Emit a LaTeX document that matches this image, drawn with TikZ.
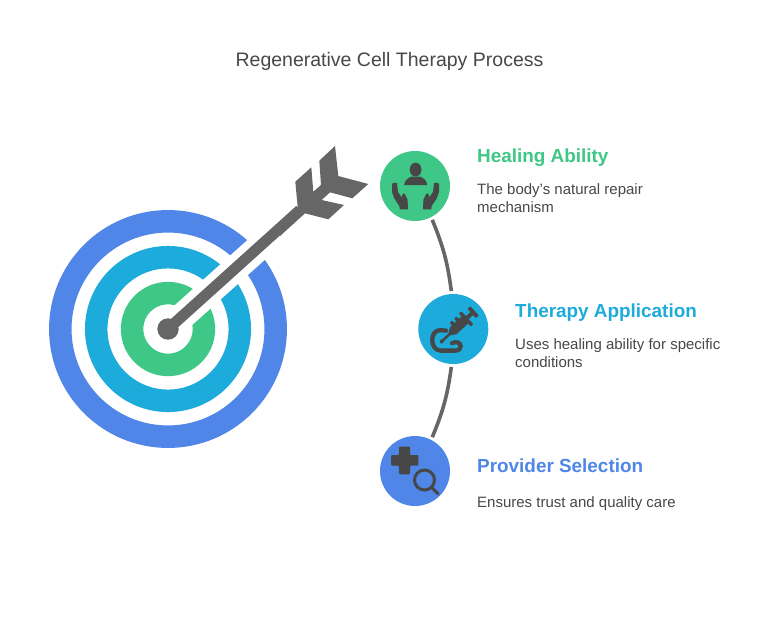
\documentclass[tikz,border=0pt]{standalone}
\usepackage{fontspec}
\setmainfont{Liberation Sans}
\definecolor{cgreen}{HTML}{3EC786}
\definecolor{ccyan}{HTML}{1DABDB}
\definecolor{cblue}{HTML}{4F86E7}
\definecolor{cgrey}{HTML}{666666}
\definecolor{cicon}{HTML}{474747}
\definecolor{ctext}{HTML}{484848}
\tikzset{
 stepdisc/.style={circle,minimum size=70pt,inner sep=0pt,outer sep=3pt,fill=#1},
 conn/.style={draw=cgrey,line width=3.6pt},
 heading/.style={anchor=base west,inner sep=0pt,font=\fontsize{18.9}{22}\selectfont\bfseries,text=#1},
 body/.style={anchor=north west,inner sep=0pt,align=left,font=\fontsize{15}{18}\selectfont,text=ctext},
 title/.style={anchor=base,inner sep=0pt,font=\fontsize{19.5}{22}\selectfont,text=ctext},
 ico/.style={fill=cicon,draw=none},
 icol/.style={draw=cicon,line width=3pt,fill=none,line cap=round},
}
\begin{document}
\begin{tikzpicture}[x=1pt,y=-1pt]
\useasboundingbox (0,0) rectangle (778,616);
\fill[white] (0,0) rectangle (778,616);
\node[title] (ttl) at (389.5,66.5) {Regenerative Cell Therapy Process};
% target
\coordinate (c) at (168,329);
\draw[cblue,line width=22.5pt] (c) circle (107.7);
\draw[ccyan,line width=22.5pt] (c) circle (71.8);
\draw[cgreen,line width=22.5pt] (c) circle (35.9);
\draw[white,line width=26.4pt] (c) -- ++(-41.9:175);
\fill[cgrey] (c) circle (10.7);
\draw[cgrey,line width=11pt] (c) -- (300,210);
\fill[cgrey] (280,221.7)--(297.7,207.3)--(295.3,181.7)--(311.3,167.3)--(313.3,191.7)--(321,185)--(319.3,160.7)--(335,146)--(338.3,176)--(368.3,184)--(352.3,198.3)--(330,192.3)--(321.7,200)--(344,205)--(328.3,219.3)--(305,213.3)--(280,236)--cycle;
% step discs
\node[stepdisc=cgreen] (a) at (415,186) {};
\node[stepdisc=ccyan] (b) at (453.3,329) {};
\node[stepdisc=cblue] (d) at (415,471) {};
\draw[conn] (a.-63) to[bend left=7.5] (b.93.5);
\draw[conn] (b.-93.5) to[bend left=7.5] (d.63);
% icon: person and hands
\fill[ico] (415.6,169.6) ellipse (5.9 and 6.9);
\fill[ico] (404.2,185) .. controls (404.4,180.5) and (408,178) .. (411.5,176.5) -- (420,176.5) .. controls (423.5,178) and (427,180.5) .. (427.2,185) -- cycle;
\foreach \sx/\ox in {1/0,-1/831}{
 \begin{scope}[xshift=\ox pt,xscale=\sx]
 \fill[ico] (392,184)--(393.5,182.8)--(397,183)--(398,192)--(401.8,197.5)--(402.6,193.5)--(404.5,193.5)--(407.6,199.5)--(408,209.3)--(399.8,209.3)--(399.3,206)--(394.3,198.5)--(392,192)--cycle;
 \end{scope}
}
% icon: syringe and tube
\draw[icol,line width=4.3pt] (446,330.6) -- (440,330.2) .. controls (435,330.2) and (432.2,335) .. (432.2,340) .. controls (432.2,346.5) and (436,350.6) .. (441,350.6) -- (455,350.6) .. controls (459,350.6) and (461,348.5) .. (460.7,346) .. controls (460.3,342.5) and (456,341) .. (452,343.2);
\begin{scope}[shift={(441.7,341.5)},rotate=43]
 \fill[ico] (0,0) circle (2);
 \fill[ico] (0,-1.3) rectangle (14,1.3);
 \fill[ico] (11,-1.8) -- (16,-4.8) -- (33,-4.8) -- (33,4.8) -- (16,4.8) -- (11,1.8) -- cycle;
 \fill[ico,rounded corners=0.8pt] (18.5,-8.2) rectangle (22,-3);
 \fill[ico,rounded corners=0.8pt] (24.5,-8.2) rectangle (28,-3);
 \fill[ico,rounded corners=0.8pt] (31.5,-8.8) rectangle (35,8.8);
 \fill[ico] (34,-2) rectangle (42,2);
 \fill[ico,rounded corners=0.8pt] (41,-6.3) rectangle (45,6.3);
\end{scope}
% icon: plus and magnifier
\fill[ico,rounded corners=1pt] (399,446.7) -- (410,446.7) -- (410,455) -- (418.3,455) -- (418.3,465.7) -- (410,465.7) -- (410,474.3) -- (399,474.3) -- (399,465.7) -- (391,465.7) -- (391,455) -- (399,455) -- cycle;
\draw[icol] (424.5,480) circle (10);
\draw[icol] (431.8,487.5) -- (438,493.8);
% labels
\node[heading=cgreen] (h1) at (477,162) {Healing Ability};
\node[body] (t1) at (477,183) {The body's natural repair\\mechanism};
\node[heading=ccyan] (h2) at (515,317) {Therapy Application};
\node[body] (t2) at (515,338) {Uses healing ability for specific\\conditions};
\node[heading=cblue] (h3) at (477,472) {Provider Selection};
\node[body] (t3) at (477,496) {Ensures trust and quality care};
\end{tikzpicture}
\end{document}
